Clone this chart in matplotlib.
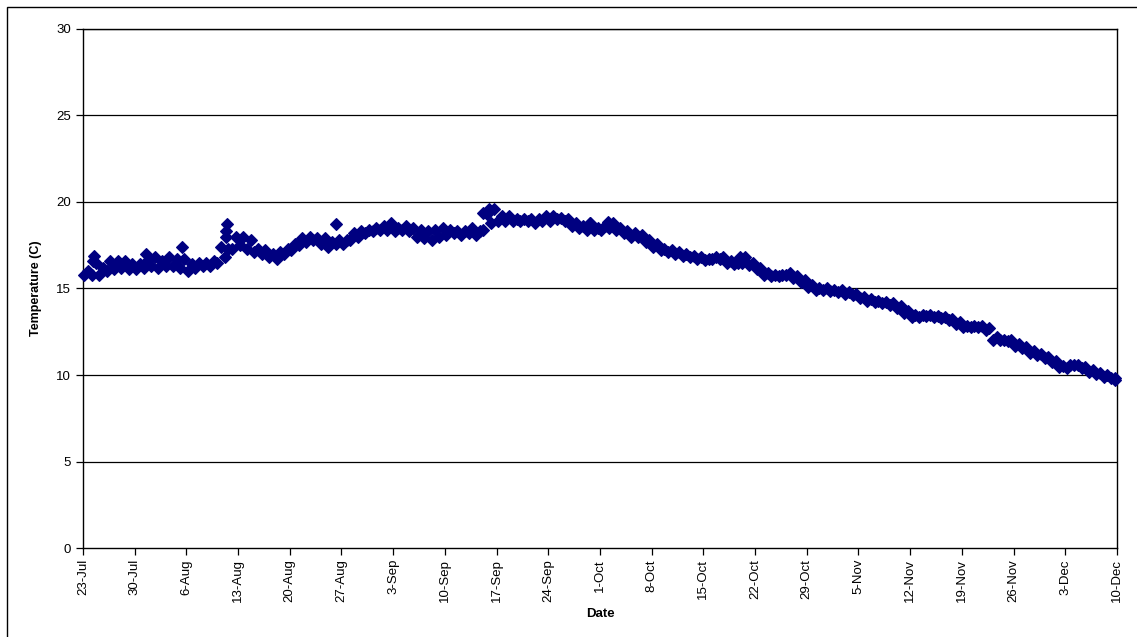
import matplotlib
matplotlib.use("Agg")
import matplotlib.pyplot as plt
import matplotlib.patches as patches
import numpy as np

plt.rcParams['font.family'] = ['Liberation Sans', 'DejaVu Sans']

# Daily low / high readings (deg C), day 0 = 23-Jul
temp_low = [15.8, 15.8, 15.8, 16.0, 16.1, 16.2, 16.1, 16.1, 16.2, 16.3,
            16.2, 16.3, 16.3, 16.2, 16.0, 16.2, 16.3, 16.3, 16.5, 16.8,
            17.3, 17.5, 17.3, 17.1, 17.0, 16.8, 16.7, 17.0, 17.2, 17.5,
            17.7, 17.8, 17.6, 17.4, 17.6, 17.6, 17.8, 18.0, 18.2, 18.3,
            18.4, 18.4, 18.3, 18.4, 18.3, 18.0, 17.9, 17.8, 18.0, 18.1,
            18.2, 18.1, 18.2, 18.1, 18.4, 18.8, 18.9, 18.9, 18.9, 18.9,
            18.9, 18.8, 18.9, 18.9, 19.0, 18.9, 18.6, 18.5, 18.4, 18.4,
            18.4, 18.5, 18.4, 18.2, 18.0, 18.0, 17.7, 17.4, 17.2, 17.1,
            17.0, 16.9, 16.8, 16.7, 16.65, 16.7, 16.7, 16.5, 16.4, 16.5,
            16.35, 16.1, 15.8, 15.75, 15.7, 15.8, 15.6, 15.4, 15.1, 14.9,
            14.9, 14.85, 14.8, 14.7, 14.6, 14.45, 14.3, 14.2, 14.15, 14.05,
            13.9, 13.6, 13.35, 13.35, 13.4, 13.35, 13.3, 13.2, 12.95, 12.8,
            12.8, 12.75, 12.6, 12.0, 12.0, 11.95, 11.7, 11.55, 11.3, 11.15,
            11.0, 10.75, 10.45, 10.4, 10.55, 10.4, 10.2, 10.05, 9.9, 9.8]
temp_high = [16.0, 16.5, 16.2, 16.6, 16.6, 16.6, 16.4, 16.4, 16.6, 16.8,
             16.6, 16.8, 16.7, 16.7, 16.4, 16.5, 16.5, 16.6, 17.4, 17.3,
             18.0, 18.0, 17.8, 17.3, 17.2, 17.0, 17.1, 17.3, 17.6, 17.9,
             18.0, 17.9, 17.9, 17.7, 17.8, 17.8, 18.2, 18.3, 18.4, 18.5,
             18.6, 18.8, 18.5, 18.6, 18.5, 18.4, 18.3, 18.4, 18.5, 18.4,
             18.3, 18.3, 18.5, 18.3, 19.3, 19.6, 19.2, 19.2, 19.0, 19.0,
             19.0, 19.0, 19.2, 19.2, 19.1, 19.0, 18.8, 18.6, 18.8, 18.5,
             18.6, 18.8, 18.5, 18.3, 18.2, 18.1, 17.8, 17.6, 17.3, 17.2,
             17.1, 17.0, 16.9, 16.8, 16.7, 16.8, 16.8, 16.6, 16.5, 16.8,
             16.5, 16.2, 15.9, 15.8, 15.8, 15.9, 15.7, 15.5, 15.2, 15.0,
             15.0, 14.9, 14.9, 14.8, 14.7, 14.5, 14.4, 14.3, 14.2, 14.15,
             14.0, 13.7, 13.45, 13.45, 13.45, 13.4, 13.35, 13.25, 13.05, 12.85,
             12.85, 12.85, 12.7, 12.2, 12.05, 12.0, 11.8, 11.6, 11.4, 11.2,
             11.05, 10.8, 10.5, 10.6, 10.6, 10.45, 10.3, 10.1, 10.0, 9.85]
# Isolated spike readings
spike_day = [1.3, 1.5, 8.5, 13.4, 19.4, 19.4, 19.5, 34.3, 54.2, 55.0, 68.6, 71.1, 89.0, 139.7]
spike_temp = [16.6, 16.9, 17.0, 17.4, 18.0, 18.3, 18.7, 18.7, 19.35, 19.6, 18.8, 18.85, 16.8, 9.7]

tick_days = [0, 7, 14, 21, 28, 35, 42, 49, 56, 63, 70, 77, 84, 91, 98, 105,
             112, 119, 126, 133, 140]
tick_labels = ['23-Jul', '30-Jul', '6-Aug', '13-Aug', '20-Aug', '27-Aug', '3-Sep',
               '10-Sep', '17-Sep', '24-Sep', '1-Oct', '8-Oct', '15-Oct', '22-Oct',
               '29-Oct', '5-Nov', '12-Nov', '19-Nov', '26-Nov', '3-Dec', '10-Dec']

days = np.arange(len(temp_low))
x_all = np.concatenate([days + 0.2, days + 0.7, spike_day])
y_all = np.concatenate([temp_low, temp_high, spike_temp])
order = np.argsort(x_all)

fig = plt.figure(figsize=(11.37, 6.37), dpi=100)
ax = fig.add_axes([0.073, 0.1397, 0.9094, 0.8148])

for v in range(5, 31, 5):
    ax.axhline(v, color='black', lw=0.9, zorder=1)

navy = '#000080'
ax.plot(x_all[order], y_all[order], linestyle='none', marker='D', ms=6.3,
        color=navy, mec=navy, mew=0.8, zorder=3, clip_on=False)

ax.set_xlim(0, 140)
ax.set_ylim(0, 30)
ax.set_yticks(range(0, 31, 5))
ax.set_xticks(tick_days)
ax.set_xticklabels(tick_labels, rotation=90)
ax.tick_params(axis='both', direction='out', length=5, width=0.9, labelsize=9.5, color='black')
ax.tick_params(axis='x', pad=3)
for s in ax.spines.values():
    s.set_linewidth(1.0)
    s.set_color('black')

ax.set_xlabel('Date', fontsize=9.5, fontweight='bold', labelpad=4)
ax.set_ylabel('Temperature (C)', fontsize=9, fontweight='bold', labelpad=10)

top = 1 - 7 / 637
frame = patches.Rectangle((7 / 1137, -0.2), 1.2, top + 0.2,
                          transform=fig.transFigure, fill=False, lw=1.0,
                          edgecolor='black', clip_on=False)
fig.patches.append(frame)

fig.savefig('out.png', dpi=100, facecolor='white')
